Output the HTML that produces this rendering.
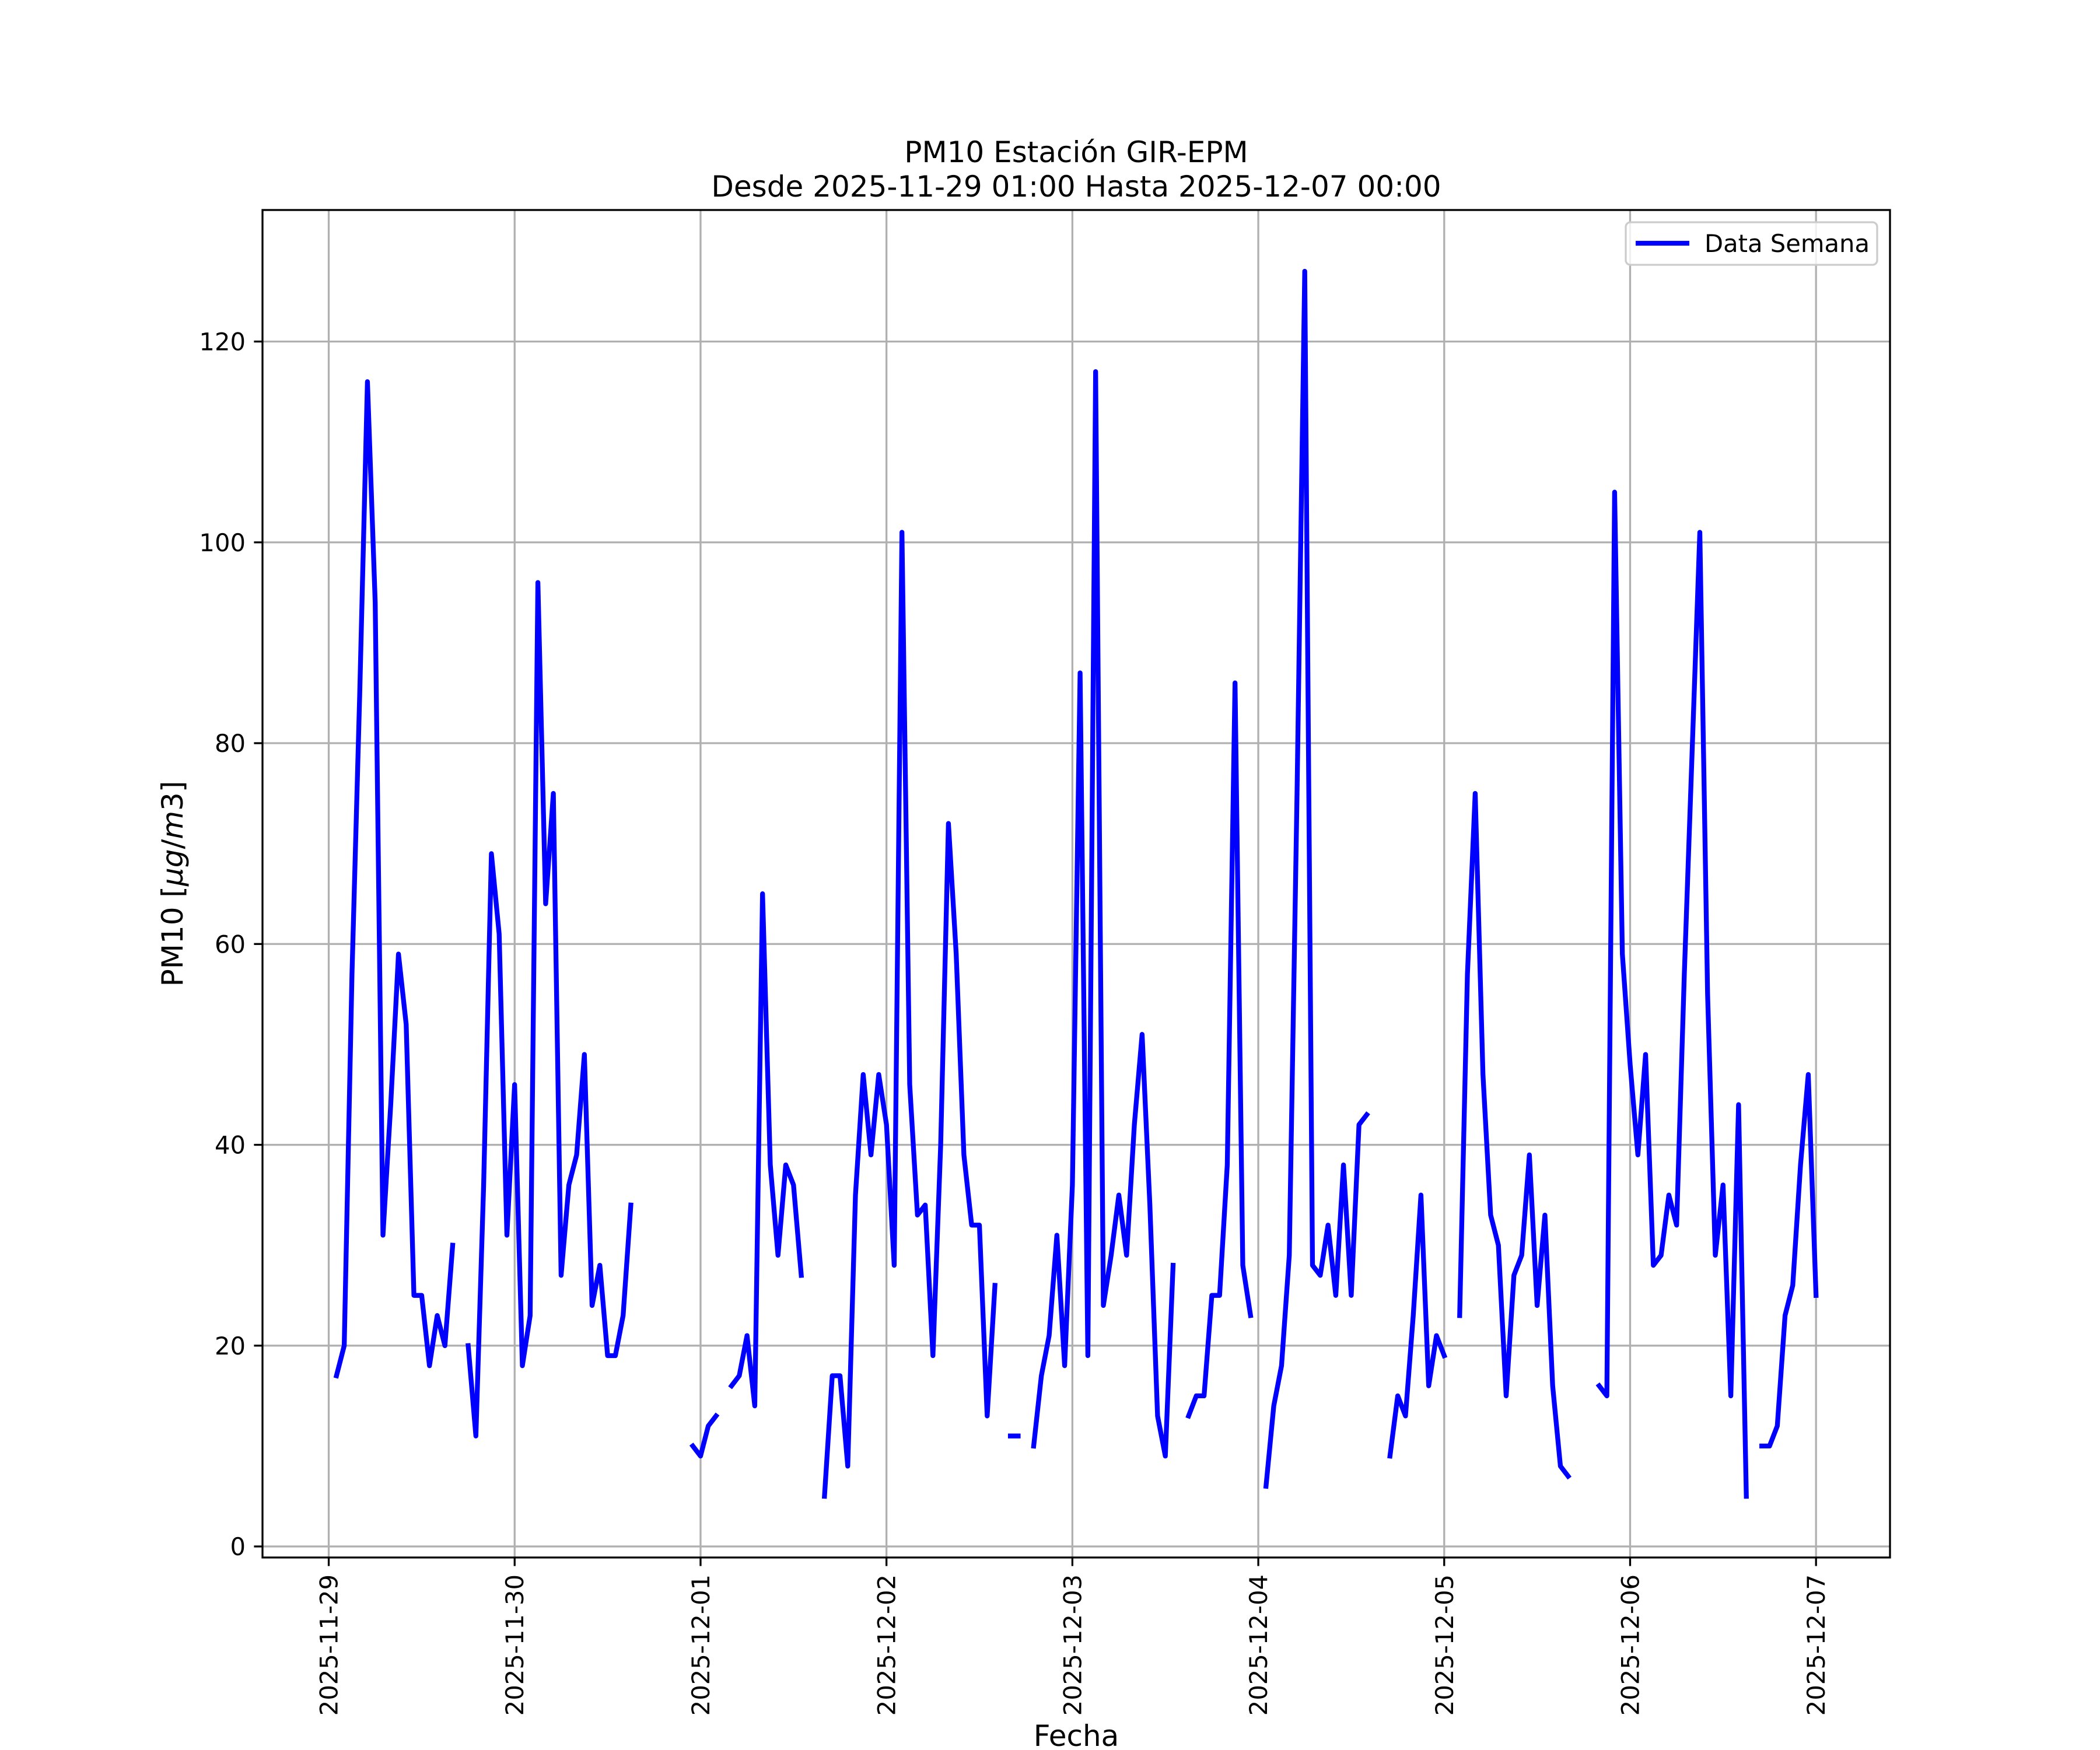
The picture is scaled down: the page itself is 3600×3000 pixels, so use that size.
<!DOCTYPE html>
<html><head><meta charset="utf-8"><style>
html,body{margin:0;padding:0;background:#fff;}
svg{display:block;font-family:"DejaVu Sans","Liberation Sans",sans-serif;}
</style></head><body>
<svg id="chart" width="3600" height="3000" viewBox="0 0 3600 3000" xmlns="http://www.w3.org/2000/svg">
<rect x="0" y="0" width="3600" height="3000" fill="#fff"/>
<text x="1845" y="278" font-size="50" text-anchor="middle">PM10 Estación GIR-EPM</text>
<text x="1845" y="337" font-size="50" text-anchor="middle">Desde 2025-11-29 01:00 Hasta 2025-12-07 00:00</text>
<g id="grid"></g>
<g id="series"></g>
<rect x="450" y="360" width="2790" height="2310" fill="none" stroke="#000" stroke-width="3.3"/>
<g id="axes"></g>
<text x="1845" y="2993" font-size="50" text-anchor="middle">Fecha</text>
<text transform="translate(313,1515) rotate(-90)" font-size="50" text-anchor="middle">PM10 [<tspan font-style="italic">μg</tspan>/<tspan font-style="italic">m</tspan>3]</text>
<g>
<rect x="2787" y="381" width="431" height="73" rx="8" fill="#fff" fill-opacity="0.8" stroke="#ccc" stroke-width="3.3"/>
<line x1="2804" y1="417" x2="2896" y2="417" stroke="#0000ff" stroke-width="8.3"/>
<text x="2922" y="432" font-size="41.7">Data Semana</text>
</g>
</svg>
<script>
const values = [17,20,57,85,116,94,31,44,59,52,25,25,18,23,20,30,
null,
20,11,36,69,61,31,46,18,23,96,64,75,27,36,39,49,24,28,19,19,23,34,
null,null,null,null,null,null,null,
10,9,12,13,
null,
16,17,21,14,65,38,29,38,36,27,
null,null,
5,17,17,8,35,47,39,47,42,28,101,46,33,34,19,40,72,59,39,32,32,13,26,
null,
11,11,
null,
10,17,21,31,18,36,87,19,117,24,29,35,29,42,51,34,13,9,28,
null,
13,15,15,25,25,38,86,28,23,
null,
6,14,18,29,75,127,28,27,32,25,38,25,42,43,
null,null,
9,15,13,23,35,16,21,19,
null,
23,57,75,47,33,30,15,27,29,39,24,33,16,8,7,
null,null,null,
16,15,105,59,48,39,49,28,29,35,32,57,79,101,55,29,36,15,44,5,
null,
10,10,12,23,26,38,47,25];
const startHour = 1;
const xTickLabels = ["2025-11-29","2025-11-30","2025-12-01","2025-12-02","2025-12-03","2025-12-04","2025-12-05","2025-12-06","2025-12-07"];
const yTicks = [0,20,40,60,80,100,120];

const NS = "http://www.w3.org/2000/svg";
const L=450,R=3240,T=360,B=2670;
const xMin=-8.55,xMax=201.55,yMin=-1.1,yMax=133.1;
function xs(h){return L+(h-xMin)/(xMax-xMin)*(R-L);}
function ys(v){return B-(v-yMin)/(yMax-yMin)*(B-T);}
function mk(tag,attrs,parent){const e=document.createElementNS(NS,tag);for(const k in attrs)e.setAttribute(k,attrs[k]);parent.appendChild(e);return e;}
const grid=document.getElementById('grid'),axes=document.getElementById('axes'),series=document.getElementById('series');
yTicks.forEach(v=>{
  const y=ys(v);
  const g=mk('line',{x1:L,x2:R,y1:y,y2:y,stroke:'#b0b0b0','stroke-width':3.3},grid);
  
  
  const t=mk('line',{x1:L-14.6,x2:L,y1:y,y2:y,stroke:'#000','stroke-width':3.3},axes);
  
  
  const tx=mk('text',{x:L-29,y:y+15,'font-size':41.7,'text-anchor':'end'},axes);
  
  
  tx.textContent=v;
});
xTickLabels.forEach((lab,i)=>{
  const x=xs(i*24);
  const g=mk('line',{x1:x,x2:x,y1:T,y2:B,stroke:'#b0b0b0','stroke-width':3.3},grid);
  
  
  const t=mk('line',{x1:x,x2:x,y1:B,y2:B+14.6,stroke:'#000','stroke-width':3.3},axes);
  
  
  const tx=mk('text',{transform:`translate(${x+15},${B+29}) rotate(-90)`,'font-size':41.7,'text-anchor':'end'},axes);
  
  
  tx.textContent=lab;
});
let seg=[];
function flush(){
  if(seg.length>1){
    const p=mk('polyline',{points:seg.join(' '),fill:'none',stroke:'#0000ff','stroke-width':8.3,'stroke-linejoin':'round','stroke-linecap':'square'},series);
    
    
  }
  seg=[];
}
values.forEach((v,i)=>{
  if(v===null){flush();return;}
  seg.push(xs(startHour+i).toFixed(1)+','+ys(v).toFixed(1));
});
flush();
</script>
</body></html>
